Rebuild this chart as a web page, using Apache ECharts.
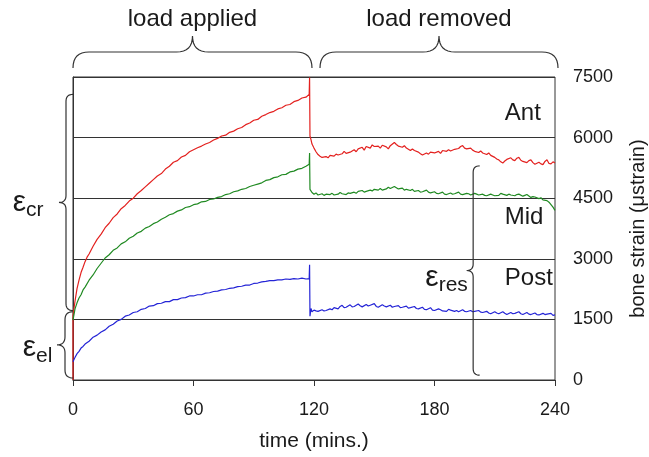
<!DOCTYPE html>
<html>
<head>
<meta charset="utf-8">
<script src="https://cdn.jsdelivr.net/npm/echarts@6/dist/echarts.min.js"></script>
<style>
  html, body { margin: 0; padding: 0; background: #fff; }
  #main { width: 649px; height: 457px; }
</style>
</head>
<body>
<div id="main"></div>
<script>
// strain traces: [time in mins, microstrain]
let ant = [[0,0],[0,1600],[1,1950],[2,2260],[3,2470],[4,2660],[5,2790],[6,2930],[7,3040],[8,3120],[10,3310],[12,3480],[14,3610],[16,3770],[18,3880],[20,4020],[22,4110],[24,4240],[26,4320],[28,4430],[30,4500],[32,4610],[34,4690],[36,4780],[38,4870],[40,4960],[42,5050],[44,5110],[46,5220],[48,5290],[50,5390],[52,5430],[54,5520],[56,5560],[58,5650],[60,5700],[62,5750],[64,5790],[66,5840],[68,5880],[70,5940],[72,5980],[74,6040],[76,6060],[78,6130],[80,6160],[82,6220],[84,6250],[86,6320],[88,6360],[90,6430],[92,6450],[94,6530],[96,6570],[98,6620],[100,6650],[102,6710],[104,6740],[106,6800],[108,6820],[110,6890],[112,6920],[114,6980],[116,7000],[117.6,7070],[117.8,7490],[118,6040],
  [118.5,5950],[119,5840],[120,5740],[121,5650],[122,5580],[123,5540],[124,5510],[126,5530],[127,5500],[128,5560],[130,5540],[131,5590],[132,5570],[134,5600],[135,5660],[136,5610],[138,5640],[140,5700],[141,5650],[142,5720],[144,5760],[145,5690],[146,5780],[148,5740],[149,5820],[150,5780],[152,5790],[153,5740],[154,5810],[156,5770],[157,5720],[158,5800],[160,5880],[161,5830],[162,5790],[164,5760],[165,5800],[166,5740],[168,5680],[169,5720],[170,5680],[172,5640],[173,5600],[174,5570],[176,5620],[177,5590],[178,5640],[180,5620],[182,5660],[183,5610],[184,5680],[186,5660],[187,5700],[188,5670],[190,5710],[192,5730],[193,5780],[194,5800],[195,5740],[196,5720],[198,5740],[199,5690],[200,5660],[202,5630],[203,5670],[204,5620],[206,5580],[207,5620],[208,5560],[210,5510],[211,5470],[212,5450],[213,5400],[214,5370],[215,5420],[216,5460],[218,5500],[219,5450],[220,5430],[221,5490],[222,5510],[223,5440],[224,5410],[226,5380],[227,5430],[228,5450],[229,5380],[230,5340],[232,5390],[233,5350],[234,5330],[235,5410],[236,5450],[237,5360],[238,5350],[239,5400],[240,5370]];
let mid = [[0,1480],[1,1760],[2,1910],[3,2030],[4,2110],[5,2230],[6,2300],[8,2470],[10,2600],[12,2760],[14,2890],[16,3020],[18,3100],[20,3210],[22,3270],[24,3370],[26,3420],[28,3510],[30,3560],[32,3640],[34,3680],[36,3760],[38,3800],[40,3870],[42,3910],[44,3980],[46,4030],[48,4090],[50,4120],[52,4180],[54,4210],[56,4270],[58,4290],[60,4340],[62,4360],[64,4410],[66,4420],[68,4470],[70,4480],[72,4520],[74,4540],[76,4590],[78,4610],[80,4660],[82,4680],[84,4720],[86,4740],[88,4790],[90,4820],[92,4850],[94,4880],[96,4940],[98,4960],[100,5010],[102,5030],[104,5080],[106,5090],[108,5150],[110,5170],[112,5220],[114,5240],[116,5290],[117.6,5340],[117.8,5620],
  [118,4720],[119,4640],[120,4600],[121,4630],[122,4580],[124,4610],[125,4570],[126,4600],[128,4590],[129,4620],[130,4580],[132,4600],[133,4640],[134,4610],[136,4590],[137,4630],[138,4620],[140,4650],[141,4620],[142,4670],[144,4690],[145,4650],[146,4670],[148,4700],[149,4680],[150,4720],[152,4700],[153,4740],[154,4700],[156,4730],[157,4770],[158,4740],[160,4790],[161,4760],[162,4730],[164,4750],[165,4700],[166,4720],[168,4690],[169,4720],[170,4670],[172,4690],[173,4650],[174,4660],[176,4700],[177,4650],[178,4630],[180,4660],[181,4620],[182,4610],[184,4650],[185,4600],[186,4590],[188,4630],[189,4600],[190,4610],[192,4650],[193,4600],[194,4590],[196,4620],[197,4610],[198,4580],[200,4620],[201,4600],[202,4580],[204,4600],[205,4570],[206,4560],[208,4600],[209,4580],[210,4560],[212,4570],[213,4620],[214,4600],[216,4570],[217,4600],[218,4580],[220,4560],[221,4590],[222,4600],[224,4550],[225,4570],[226,4590],[228,4520],[229,4540],[230,4530],[232,4490],[233,4510],[234,4460],[236,4440],[237,4400],[238,4340],[239,4280],[240,4200]];
let post = [[0,450],[1,560],[2,650],[3,710],[4,790],[5,830],[6,890],[8,960],[10,1060],[12,1110],[14,1190],[16,1240],[18,1330],[20,1380],[22,1460],[24,1500],[26,1580],[28,1610],[30,1670],[32,1690],[34,1750],[36,1770],[38,1830],[40,1840],[42,1890],[44,1900],[46,1940],[48,1940],[50,1990],[52,1990],[54,2030],[56,2040],[58,2080],[60,2080],[62,2110],[64,2110],[66,2150],[68,2160],[70,2190],[72,2200],[74,2230],[76,2240],[78,2270],[80,2280],[82,2310],[84,2320],[86,2350],[88,2350],[90,2390],[92,2400],[94,2430],[96,2440],[98,2460],[100,2460],[102,2480],[104,2480],[106,2500],[108,2490],[110,2510],[112,2500],[114,2520],[116,2500],[117.6,2510],[117.8,2850],
  [118,1580],[118.5,1770],[119,1690],[120,1730],[121,1710],[122,1700],[124,1740],[125,1710],[126,1720],[128,1760],[129,1740],[130,1790],[132,1760],[133,1820],[134,1850],[135,1790],[136,1800],[138,1860],[139,1810],[140,1820],[142,1880],[143,1840],[144,1810],[146,1870],[147,1830],[148,1850],[150,1890],[151,1820],[152,1800],[154,1860],[155,1830],[156,1810],[158,1850],[159,1800],[160,1820],[162,1840],[163,1790],[164,1800],[166,1830],[167,1780],[168,1790],[170,1820],[171,1770],[172,1760],[174,1800],[175,1750],[176,1740],[178,1790],[179,1730],[180,1720],[182,1760],[183,1740],[184,1710],[186,1700],[187,1750],[188,1730],[190,1700],[191,1720],[192,1690],[194,1740],[195,1700],[196,1690],[198,1720],[199,1690],[200,1700],[202,1720],[203,1680],[204,1670],[206,1700],[207,1660],[208,1640],[210,1690],[211,1660],[212,1640],[214,1690],[215,1650],[216,1620],[218,1670],[219,1640],[220,1650],[222,1690],[223,1640],[224,1620],[226,1670],[227,1630],[228,1620],[230,1660],[231,1620],[232,1610],[234,1650],[235,1620],[236,1630],[238,1650],[239,1600],[240,1610]];

let timeTicks = [0, 60, 120, 180, 240];
let strainTicks = [0, 1500, 3000, 4500, 6000, 7500];
let siteNames = ['Ant', 'Mid', 'Post'];

let font = '"Liberation Sans", Arial, Helvetica, sans-serif';
let ink = '#1a1a1a';

let chart = echarts.init(document.getElementById('main'));

let option = {
  animation: false,
  backgroundColor: '#fff',
  textStyle: { fontFamily: font },
  grid: {
    left: 73, right: 94, top: 77, bottom: 77,
    show: true, borderColor: '#333', borderWidth: 1,
    outerBoundsMode: 'none'
  },
  xAxis: {
    type: 'value',
    min: timeTicks[0],
    max: timeTicks[timeTicks.length - 1],
    interval: timeTicks[1] - timeTicks[0],
    name: 'time (mins.)',
    nameLocation: 'middle',
    nameGap: 51,
    nameTextStyle: { fontSize: 21, color: ink, fontFamily: font },
    axisLine: { show: true, lineStyle: { color: '#333', width: 1 } },
    axisTick: { show: true, length: 6, lineStyle: { color: '#333' } },
    axisLabel: { fontSize: 18, color: ink, margin: 21, fontFamily: font },
    splitLine: { show: false }
  },
  yAxis: {
    type: 'value',
    position: 'right',
    min: strainTicks[0],
    max: strainTicks[strainTicks.length - 1],
    interval: strainTicks[1] - strainTicks[0],
    name: 'bone strain (\u03bcstrain)',
    nameLocation: 'middle',
    nameRotate: 90,
    nameGap: 73,
    nameTextStyle: { fontSize: 20, color: ink, fontFamily: font },
    axisLine: { show: true, lineStyle: { color: '#333', width: 1 } },
    axisTick: { show: true, length: 8, lineStyle: { color: '#333' } },
    axisLabel: { fontSize: 18, color: ink, margin: 18, fontFamily: font,
                 formatter: function (v) { return String(v); } },
    splitLine: { show: true, lineStyle: { color: '#333', width: 1 } }
  },
  series: [
    { name: siteNames[0], type: 'line', data: ant, showSymbol: false, symbol: 'none',
      lineStyle: { color: '#e3211f', width: 1.2 }, z: 3 },
    { name: siteNames[1], type: 'line', data: mid, showSymbol: false, symbol: 'none',
      lineStyle: { color: '#208a22', width: 1.2 }, z: 3 },
    { name: siteNames[2], type: 'line', data: post, showSymbol: false, symbol: 'none',
      lineStyle: { color: '#2424d6', width: 1.2 }, z: 3 }
  ]
};
chart.setOption(option);

function px(t, v) {
  return chart.convertToPixel({ gridIndex: 0 }, [t, v]);
}

// points along a quadratic curve
function quad(pts, a, c, b) {
  for (let i = 1; i <= 8; i++) {
    let s = i / 8;
    pts.push([
      (1 - s) * (1 - s) * a[0] + 2 * (1 - s) * s * c[0] + s * s * b[0],
      (1 - s) * (1 - s) * a[1] + 2 * (1 - s) * s * c[1] + s * s * b[1]
    ]);
  }
}

// curly brace standing up, ends at xEnd, tip pointing left by w
function vBrace(xEnd, yTop, yBot, w) {
  let h = w / 2, ym = (yTop + yBot) / 2, xs = xEnd - h;
  let pts = [[xEnd, yTop]];
  quad(pts, [xEnd, yTop], [xs, yTop], [xs, yTop + h]);
  pts.push([xs, ym - h]);
  quad(pts, [xs, ym - h], [xs, ym], [xEnd - w, ym]);
  quad(pts, [xEnd - w, ym], [xs, ym], [xs, ym + h]);
  pts.push([xs, yBot - h]);
  quad(pts, [xs, yBot - h], [xs, yBot], [xEnd, yBot]);
  return pts;
}

// curly brace lying flat, ends at yEnd, tip pointing up by w
function hBrace(x1, x2, yEnd, w) {
  let h = w / 2, xm = (x1 + x2) / 2, ys = yEnd - h;
  let pts = [[x1, yEnd]];
  quad(pts, [x1, yEnd], [x1, ys], [x1 + h, ys]);
  pts.push([xm - h, ys]);
  quad(pts, [xm - h, ys], [xm, ys], [xm, yEnd - w]);
  quad(pts, [xm, yEnd - w], [xm, ys], [xm + h, ys]);
  pts.push([x2 - h, ys]);
  quad(pts, [x2 - h, ys], [x2, ys], [x2, yEnd]);
  return pts;
}

function brace(pts) {
  return { type: 'polyline', z: 10, shape: { points: pts },
           style: { stroke: '#333', lineWidth: 1.2, fill: null } };
}

function txt(x, y, s, size, align) {
  return {
    type: 'text', x: x, y: y, z: 10,
    style: { text: s, fontSize: size, fontFamily: font, fill: ink,
             align: align || 'center', verticalAlign: 'middle' }
  };
}

let p0 = px(0, 7500), p118 = px(118, 7500), p120 = px(120, 7500), p240 = px(240, 7500);
let topY = p0[1];
let crTop = px(0, 7070)[1], crBot = px(0, 1720)[1];
let elTop = px(0, 1690)[1], elBot = px(0, 50)[1];
let resTop = px(199, 5300)[1], resBot = px(199, 120)[1];
let resX = px(199, 0)[0];

let graphics = [
  brace(hBrace(p0[0], p118[0] + 2, topY - 9, 32)),
  brace(hBrace(p120[0] + 6, p240[0] + 3, topY - 9, 32)),
  txt((p0[0] + p118[0] + 2) / 2, 19, 'load applied', 24),
  txt((p120[0] + 6 + p240[0] + 3) / 2, 19, 'load removed', 24),
  brace(vBrace(p0[0], crTop, crBot, 14)),
  brace(vBrace(p0[0], elTop, elBot, 16)),
  brace(vBrace(resX + 7, resTop, resBot, 13)),
  txt(p0[0] - 47, (crTop + crBot) / 2, '\u03b5', 30, 'right'),
  txt(p0[0] - 47, (crTop + crBot) / 2 + 8, 'cr', 21, 'left'),
  txt(p0[0] - 37, (elTop + elBot) / 2 + 3, '\u03b5', 30, 'right'),
  txt(p0[0] - 37, (elTop + elBot) / 2 + 11, 'el', 21, 'left'),
  txt(resX - 34, (resTop + resBot) / 2 + 7, '\u03b5', 30, 'right'),
  txt(resX - 34, (resTop + resBot) / 2 + 15, 'res', 21, 'left')
];

// site labels sit left-aligned near the right edge of the plot
let sitePos = [[215, 6600], [215, 4030], [215, 2520]];
for (let i = 0; i < siteNames.length; i++) {
  let p = px(sitePos[i][0], sitePos[i][1]);
  graphics.push(txt(p[0], p[1], siteNames[i], 24, 'left'));
}

chart.setOption({ graphic: graphics });
</script>
</body>
</html>
